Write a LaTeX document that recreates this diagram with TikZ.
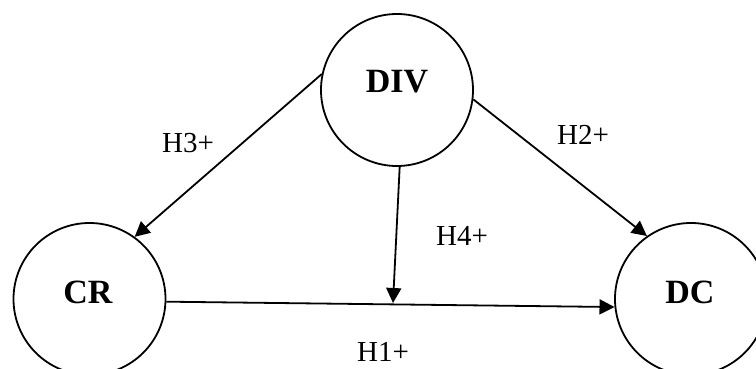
\documentclass[tikz,border=0pt]{standalone}
\usepackage{fontspec}
\setmainfont{Liberation Serif}
\usetikzlibrary{arrows.meta}
\begin{document}
\begin{tikzpicture}[x=1pt,y=-1pt,
  circ/.style={draw,circle,line width=1.8pt,minimum size=152pt,inner sep=0pt},
  bigtext/.style={font=\fontsize{34}{34}\selectfont\bfseries,inner sep=0pt},
  lbl/.style={font=\fontsize{29}{29}\selectfont,inner sep=0pt},
  arr/.style={line width=1.8pt,-{Triangle[length=15pt,width=15pt]}}]
\useasboundingbox (0,0) rectangle (756,369);
\node[circ] (div) at (397,90) {};
\node[circ] (cr) at (89.5,299) {};
\node[circ] (dc) at (691,299) {};
\node[bigtext] (divt) at (397,82) {DIV};
\node[bigtext] (crt) at (88,292) {CR};
\node[bigtext] (dct) at (690,292) {DC};
\coordinate (h4) at (393,303);
\draw[arr] (div.168) -- (cr.54.5);
\draw[arr] (div.-7.5) -- (dc.125);
\draw[arr] (cr.-2) -- (dc.186);
\draw[arr] (div.-88) -- (h4);
\node[lbl] (h3) at (188,143) {H3+};
\node[lbl] (h2) at (583,135) {H2+};
\node[lbl] (h4l) at (462,236) {H4+};
\node[lbl] (h1) at (383,352) {H1+};
\end{tikzpicture}
\end{document}
